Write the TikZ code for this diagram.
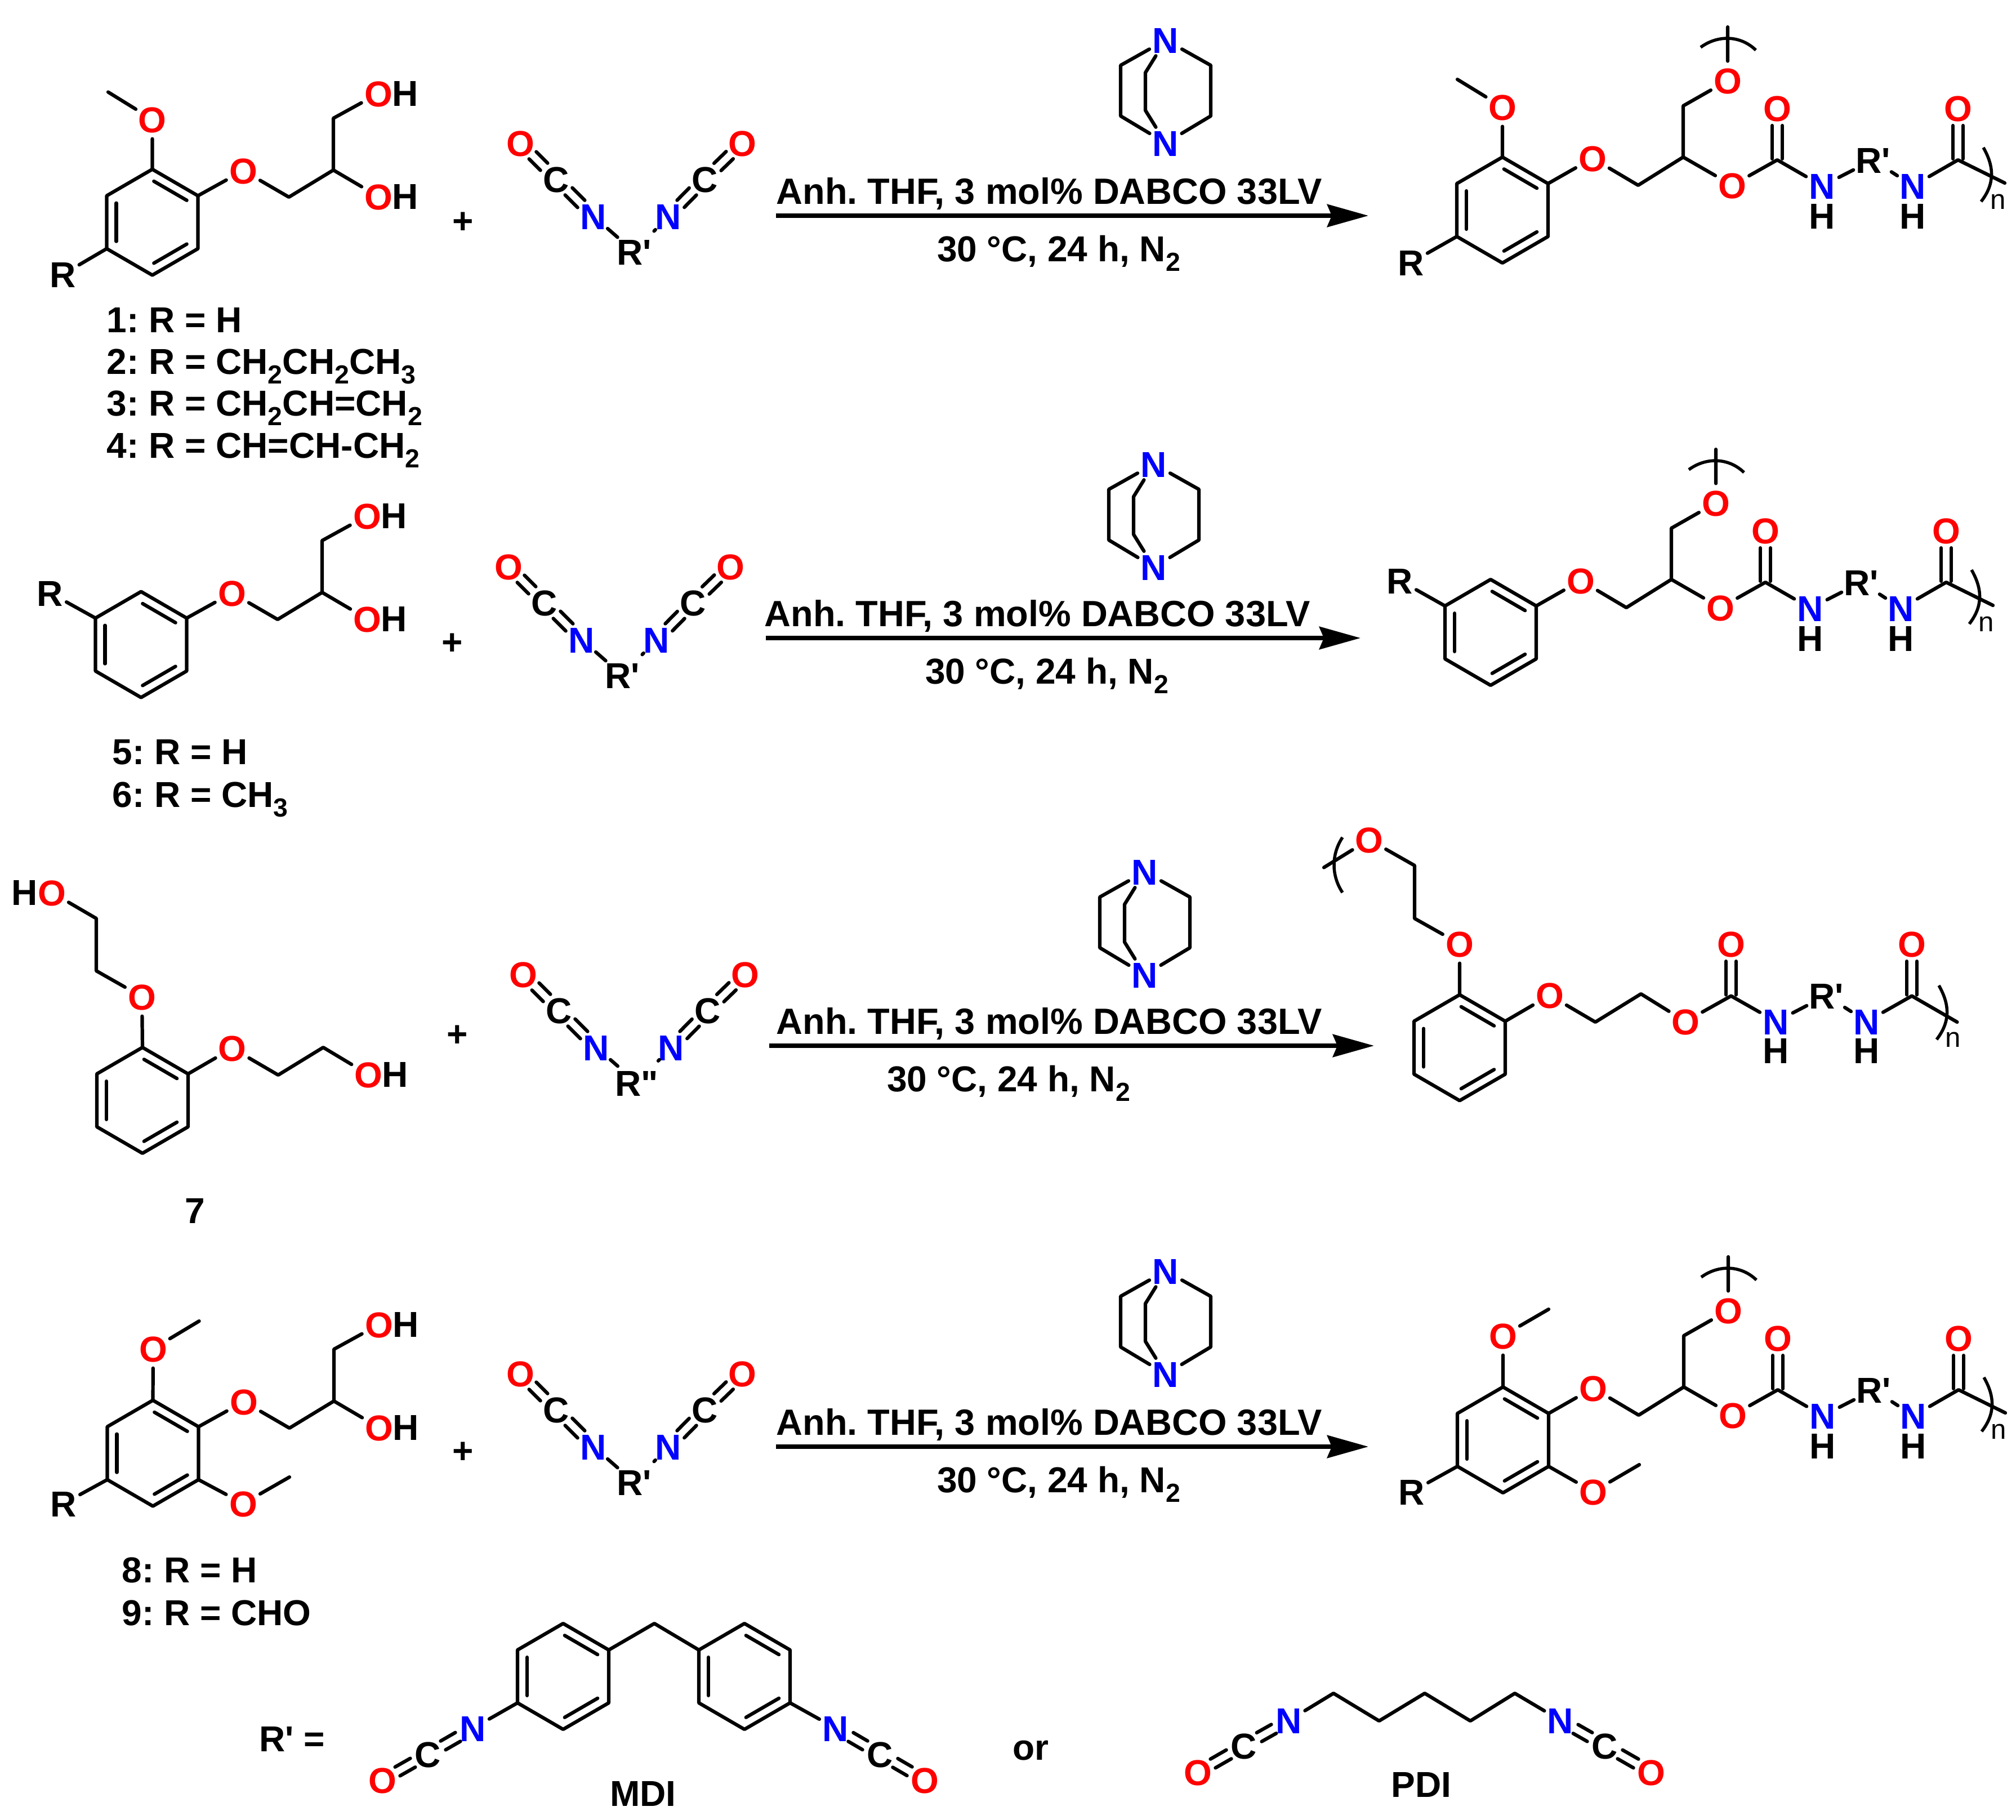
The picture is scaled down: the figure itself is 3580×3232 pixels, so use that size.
\documentclass[tikz,border=0pt]{standalone}
\usepackage{fontspec}
\usetikzlibrary{calc,arrows.meta}
\newfontfamily\lib{Liberation Sans}
\frenchspacing
\newcommand\mainf{\fontsize{18.2}{22}\selectfont\lib\bfseries\frenchspacing}
\newcommand\condf{\fontsize{18.45}{22}\selectfont\lib\bfseries\frenchspacing}
\newcommand\sbs[1]{\raisebox{-.28em}{\fontsize{13.2}{13.2}\selectfont #1}}
\definecolor{pr}{RGB}{255,0,0}
\definecolor{pb}{RGB}{0,0,255}
\tikzset{
 bond/.style={line width=.062cm,line cap=round,line join=round},
 lbl/.style={font=\mainf,inner sep=0pt,text=black},
 cond/.style={font=\condf,inner sep=0pt,text=black},
 atom/.style={lbl,circle,text height=.46cm,text depth=0pt},
 oat/.style={atom,text=pr},
 nat/.style={atom,text=pb},
 cat/.style={atom},
 brk/.style={line width=.055cm,line cap=butt},
 rxn/.style={line width=.08cm,-{Stealth[length=.73cm,width=.40cm,inset=.08cm]}},
 small/.style={font=\fontsize{14}{14}\selectfont\lib,inner sep=0pt}
}
% ring helpers
\newcommand\inb[2]{\draw[bond,shorten <=.13cm,shorten >=.13cm] ($(#1)!.17cm!-90:(#2)$) -- ($(#2)!.17cm!90:(#1)$);}
\newcommand\dbl[4]{%
 \draw[bond,shorten <=#3,shorten >=#4] ($(#1)!.09cm!90:(#2)$) -- ($(#2)!.09cm!-90:(#1)$);
 \draw[bond,shorten <=#3,shorten >=#4] ($(#1)!.09cm!-90:(#2)$) -- ($(#2)!.09cm!90:(#1)$);}
\newcommand\ringat[2]{%
 \coordinate (a) at (#1,#2);
 \coordinate (b) at ({#1+81},{#2+47});
 \coordinate (c) at ({#1+81},{#2+141});
 \coordinate (d) at (#1,{#2+188});
 \coordinate (e) at ({#1-81},{#2+141});
 \coordinate (f) at ({#1-81},{#2+47});
 \draw[bond] (a)--(b)--(c)--(d)--(e)--(f)--cycle;
 \inb{a}{b}\inb{c}{d}\inb{e}{f}}
\newcommand\OH[3]{\node[oat] (#1) at (#2,#3) {O}; \node[lbl] (#1h) at ({#2+48},#3) {H};}
% glycerol reagent chain
\newcommand\ReagentChain{%
 \node[oat] (oe) at (432,303) {O};
 \coordinate (p) at (513,350); \coordinate (q) at (592,302); \coordinate (s) at (592,210);
 \OH{ot}{672}{166}\OH{ob}{672}{349}
 \draw[bond] (b)--(oe)--(p)--(q)--(s)--(ot);
 \draw[bond] (q)--(ob);}
% diisocyanate
\newcommand\Diiso[1]{%
 \node[oat] (o1) at (924,254) {O};
 \node[cat] (c1) at (988,318) {C};
 \node[nat] (n1) at (1054,384) {N};
 \node[nat] (n2) at (1187,384) {N};
 \node[cat] (c2) at (1252,318) {C};
 \node[oat] (o2) at (1318,254) {O};
 \node[atom] (rp) at (1126,447) {#1};
 \dbl{o1}{c1}{.31cm}{.31cm}\dbl{c1}{n1}{.31cm}{.31cm}
 \dbl{n2}{c2}{.31cm}{.31cm}\dbl{c2}{o2}{.31cm}{.31cm}
 \draw[bond] (n1)--(rp);
 \draw[bond,shorten >=.12cm] (n2)--(rp);}
% DABCO
\newcommand\Dabco{%
 \node[nat] (nt) at (2070,71) {N};
 \node[nat] (nb) at (2070,254) {N};
 \coordinate (l1) at (1990,116); \coordinate (l2) at (1990,206);
 \coordinate (r1) at (2150,116); \coordinate (r2) at (2150,206);
 \coordinate (m1) at (2034,129); \coordinate (m2) at (2034,196);
 \draw[bond] (nt)--(l1)--(l2)--(nb);
 \draw[bond] (nt)--(r1)--(r2)--(nb);
 \draw[bond] (nt)--(m1)--(m2)--(nb);}
% arrow and conditions: y, x0, x1, text1 x, text2 x
\newcommand\Reaction[6]{%
 \coordinate (#1s) at (#3,#2); \coordinate (#1e) at (#4,#2);
 \draw[rxn] (#1s)--(#1e);
 \node[cond,anchor=base] (#1t) at (#5,{#2-21}) {Anh. THF, 3 mol\% DABCO 33LV};
 \node[lbl,anchor=base] (#1u) at (#6,{#2+81}) {30 °C, 24 h, N\sbs{2}};}
% product main chain, rows 1, 2, 4
\newcommand\Product{%
 \node[oat] (oe) at (2828,281) {O};
 \coordinate (p) at (2909,329); \coordinate (q) at (2989,279); \coordinate (s) at (2989,188);
 \node[oat] (ot) at (3068,143) {O};
 \coordinate (te) at (3068,48);
 \node[oat] (oc) at (3076,329) {O};
 \coordinate (k1) at (3156,284);
 \node[oat] (ok1) at (3156,192) {O};
 \node[nat] (n1) at (3236,330) {N};
 \node[lbl] (h1) at (3236,384) {H};
 \node[atom] (rp) at (3326,284) {R'};
 \node[nat] (n2) at (3397,330) {N};
 \node[lbl] (h2) at (3397,384) {H};
 \coordinate (k2) at (3477,284);
 \node[oat] (ok2) at (3477,192) {O};
 \coordinate (ee) at (3560,325);
 \draw[bond] (b)--(oe)--(p)--(q)--(s)--(ot)--(te);
 \draw[bond] (q)--(oc)--(k1)--(n1)--(rp);
 \draw[bond] (rp)--(n2)--(k2)--(ee);
 \dbl{k1}{ok1}{.02cm}{.31cm}\dbl{k2}{ok2}{.02cm}{.31cm}
 \coordinate (b1) at (3020,84); \coordinate (b2) at (3118,89);
 \draw[brk] (b1) .. controls (3050,62) and (3090,62) .. (b2);
 \coordinate (b3) at (3522,262); \coordinate (b4) at (3518,358);
 \draw[brk] (b3) .. controls (3542,297) and (3542,327) .. (b4);
 \node[small] (nn) at (3548,358) {n};}
\begin{document}
\begin{tikzpicture}[x=.01cm,y=-.01cm]
\useasboundingbox (0,0) rectangle (3580,3232);
\fill[white] (0,0) rectangle (3580,3232);

%% ROW 1
\begin{scope}[name prefix=ra-]
 \ringat{270.5}{300.6}
 \node[oat] (om) at (270.5,212) {O};
 \coordinate (me) at (192,163.5);
 \draw[bond] (a)--(om)--(me);
 \node[atom] (rr) at (112,487) {R};
 \draw[bond] (e)--(rr);
 \ReagentChain
\end{scope}
\node[lbl,anchor=base west] (la1) at (189,590) {1: R = H};
\node[lbl,anchor=base west] (la2) at (189,664) {2: R = CH\sbs{2}CH\sbs{2}CH\sbs{3}};
\node[lbl,anchor=base west] (la3) at (189,738) {3: R = CH\sbs{2}CH=CH\sbs{2}};
\node[lbl,anchor=base west] (la4) at (189,813) {4: R = CH=CH-CH\sbs{2}};
\node[lbl] (pa) at (822,396) {+};
\begin{scope}[name prefix=ia-] \Diiso{R'} \end{scope}
\begin{scope}[name prefix=da-] \Dabco \end{scope}
\Reaction{ar1}{383}{1378}{2430}{1863}{1880}
\begin{scope}[name prefix=pa-]
 \ringat{2668}{279}
 \node[oat] (om) at (2668,190) {O};
 \coordinate (me) at (2588,141);
 \draw[bond] (a)--(om)--(me);
 \node[atom] (rr) at (2506,466) {R};
 \draw[bond] (e)--(rr);
 \Product
\end{scope}

%% ROW 2
\begin{scope}[shift={(-20,750)},name prefix=rb-]
 \ringat{270.5}{300.6}
 \node[atom] (rr) at (109,303) {R};
 \draw[bond] (f)--(rr);
 \ReagentChain
\end{scope}
\node[lbl,anchor=base west] (lb1) at (199,1357) {5: R = H};
\node[lbl,anchor=base west] (lb2) at (199,1433) {6: R = CH\sbs{3}};
\node[lbl] (pb) at (803,1144) {+};
\begin{scope}[shift={(-21,752)},name prefix=ib-] \Diiso{R'} \end{scope}
\begin{scope}[shift={(-21,753)},name prefix=db-] \Dabco \end{scope}
\Reaction{ar2}{1133}{1360}{2416}{1842}{1859}
\begin{scope}[shift={(-21,750)},name prefix=pb-]
 \ringat{2668}{279}
 \node[atom] (rr) at (2507,281) {R};
 \draw[bond] (f)--(rr);
 \Product
\end{scope}

%% ROW 3
\begin{scope}[name prefix=rc-]
 \ringat{253}{1860}
 \node[oat] (o1) at (92,1585) {O};
 \node[lbl] (h1) at (44,1585) {H};
 \coordinate (p1) at (171,1631); \coordinate (p2) at (171,1724);
 \node[oat] (o2) at (252,1770) {O};
 \draw[bond] (o1)--(p1)--(p2)--(o2)--(a);
 \node[oat] (o3) at (412.5,1861.5) {O};
 \coordinate (p3) at (494,1909); \coordinate (p4) at (574,1860);
 \OH{o4}{654}{1908}
 \draw[bond] (b)--(o3)--(p3)--(p4)--(o4);
\end{scope}
\node[lbl,anchor=base] (lc) at (346,2172) {7};
\node[lbl] (pc) at (812.5,1840) {+};
\begin{scope}[shift={(5,1476)},name prefix=ic-] \Diiso{R"} \end{scope}
\begin{scope}[shift={(-37,1477)},name prefix=dc-] \Dabco \end{scope}
\Reaction{ar3}{1857}{1366}{2440}{1863}{1791}
\begin{scope}[name prefix=pc-]
 \ringat{2592}{1766.5}
 \node[oat] (o0) at (2431,1491) {O};
 \coordinate (ee0) at (2351,1540.5);
 \coordinate (p1) at (2512,1537); \coordinate (p2) at (2512,1631);
 \node[oat] (o1) at (2592,1676) {O};
 \draw[bond] (ee0)--(o0)--(p1)--(p2)--(o1)--(a);
 \node[oat] (o2) at (2752,1767.5) {O};
 \coordinate (p3) at (2833,1815); \coordinate (p4) at (2914,1765);
 \node[oat] (o3) at (2993,1814) {O};
 \coordinate (k1) at (3074,1768.6);
 \node[oat] (ok1) at (3074,1676) {O};
 \node[nat] (n1) at (3154,1814) {N};
 \node[lbl] (h1) at (3154,1866.5) {H};
 \node[atom] (rp) at (3243,1768) {R'};
 \node[nat] (n2) at (3315,1814) {N};
 \node[lbl] (h2) at (3315,1866.5) {H};
 \coordinate (k2) at (3395,1768.6);
 \node[oat] (ok2) at (3395,1676) {O};
 \coordinate (ee) at (3475.5,1815);
 \draw[bond] (b)--(o2)--(p3)--(p4)--(o3)--(k1)--(n1)--(rp);
 \draw[bond] (rp)--(n2)--(k2)--(ee);
 \dbl{k1}{ok1}{.02cm}{.31cm}\dbl{k2}{ok2}{.02cm}{.31cm}
 \coordinate (b1) at (2384,1487); \coordinate (b2) at (2384,1585);
 \draw[brk] (b1) .. controls (2364,1517) and (2364,1555) .. (b2);
 \coordinate (b3) at (3443,1750); \coordinate (b4) at (3439,1846);
 \draw[brk] (b3) .. controls (3463,1785) and (3463,1815) .. (b4);
 \node[small] (nn) at (3468,1846) {n};
\end{scope}

%% ROW 4
\begin{scope}[shift={(1,2186)},name prefix=rd-]
 \ringat{270.5}{300.6}
 \node[oat] (om) at (271,209) {O};
 \coordinate (me) at (352.6,160);
 \draw[bond] (a)--(om)--(me);
 \node[oat] (om2) at (431,484) {O};
 \coordinate (me2) at (513,437);
 \draw[bond] (c)--(om2)--(me2);
 \node[atom] (rr) at (112,484) {R};
 \draw[bond] (e)--(rr);
 \ReagentChain
\end{scope}
\node[lbl,anchor=base west] (ld1) at (216,2810) {8: R = H};
\node[lbl,anchor=base west] (ld2) at (216,2886) {9: R = CHO};
\node[lbl] (pd) at (822,2580) {+};
\begin{scope}[shift={(0,2185)},name prefix=id-] \Diiso{R'} \end{scope}
\begin{scope}[shift={(0,2186)},name prefix=dd-] \Dabco \end{scope}
\Reaction{ar4}{2569}{1378}{2430}{1863}{1880}
\begin{scope}[shift={(1,2184)},name prefix=pd-]
 \ringat{2668}{279}
 \node[oat] (om) at (2668,188) {O};
 \coordinate (me) at (2749,141);
 \draw[bond] (a)--(om)--(me);
 \node[oat] (om2) at (2828,465) {O};
 \coordinate (me2) at (2910,417);
 \draw[bond] (c)--(om2)--(me2);
 \node[atom] (rr) at (2506,465) {R};
 \draw[bond] (e)--(rr);
 \Product
\end{scope}

%% BOTTOM
\node[lbl,anchor=base west] (rlab) at (460,3110) {R' =};
\begin{scope}[name prefix=mL-]
 \ringat{1000}{2883}
 \node[nat] (n) at (840,3069) {N};
 \node[cat] (k) at (760,3115) {C};
 \node[oat] (o) at (679,3161) {O};
 \draw[bond] (e)--(n);
 \dbl{n}{k}{.31cm}{.31cm}\dbl{k}{o}{.31cm}{.31cm}
\end{scope}
\begin{scope}[name prefix=mR-]
 \ringat{1322}{2883}
 \node[nat] (n) at (1484,3069) {N};
 \node[cat] (k) at (1563,3115) {C};
 \node[oat] (o) at (1642,3161) {O};
 \draw[bond] (c)--(n);
 \dbl{n}{k}{.31cm}{.31cm}\dbl{k}{o}{.31cm}{.31cm}
\end{scope}
\coordinate (mch) at (1162,2883);
\draw[bond] (mL-b)--(mch)--(mR-f);
\node[lbl,anchor=base] (mdi) at (1142,3207) {MDI};
\node[lbl,anchor=base] (orr) at (1830,3125) {or};
\node[nat] (pn1) at (2289,3055) {N};
\node[cat] (pk1) at (2209,3100) {C};
\node[oat] (po1) at (2127,3147) {O};
\node[nat] (pn2) at (2771,3055) {N};
\node[cat] (pk2) at (2850,3100) {C};
\node[oat] (po2) at (2932,3147) {O};
\coordinate (pc1) at (2368,3007); \coordinate (pc2) at (2449,3056);
\coordinate (pc3) at (2530,3007); \coordinate (pc4) at (2611,3056);
\coordinate (pc5) at (2690,3007);
\draw[bond] (pn1)--(pc1)--(pc2)--(pc3)--(pc4)--(pc5)--(pn2);
\dbl{pn1}{pk1}{.31cm}{.31cm}\dbl{pk1}{po1}{.31cm}{.31cm}
\dbl{pn2}{pk2}{.31cm}{.31cm}\dbl{pk2}{po2}{.31cm}{.31cm}
\node[lbl,anchor=base] (pdi) at (2524,3191) {PDI};
\end{tikzpicture}
\end{document}
